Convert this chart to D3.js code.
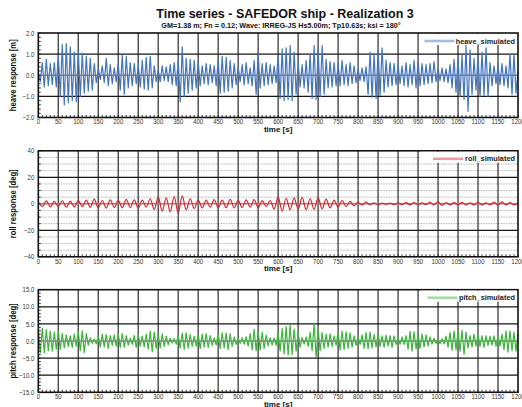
<!DOCTYPE html>
<html><head><meta charset="utf-8">
<script src="https://cdn.jsdelivr.net/npm/d3@7"></script>
<style>
html,body{margin:0;padding:0;background:#fff;}
svg{display:block;font-family:"Liberation Sans",Arial,sans-serif;}
</style></head><body>
<svg id="chart" width="522" height="407"></svg>
<script>
// ---- data -------------------------------------------------------------
const chartTitle = "Time series - SAFEDOR ship - Realization 3";
const chartSubtitle = "GM=1.38 m; Fn = 0.12; Wave: IRREG-JS Hs5.00m; Tp10.63s; ksi = 180°";
const timeTicks = d3.range(0, 1201, 50);

// successive extrema of each response, one every `step` seconds
const heaveStep = 5;
const heaveResponse = [
  0.15,-0.3,0.6,-0.55,0.75,-0.5,0.55,-0.45,0.6,-0.55,
  0.95,-1.0,1.45,-1.4,1.5,-1.3,1.35,-1.2,1.1,-1.25,
  1.15,-1.0,1.05,-0.85,0.9,-0.75,0.8,-0.7,0.55,-0.35,
  0.3,-0.2,0.45,-0.35,0.8,-0.5,0.5,-0.4,0.35,-0.3,
  0.55,-0.7,0.95,-0.9,0.9,-0.6,0.6,-0.5,0.55,-0.4,
  0.5,-0.55,0.7,-0.65,0.85,-0.7,0.9,-0.6,0.45,-0.3,
  0.25,-0.3,0.45,-0.25,0.4,-0.3,0.5,-0.45,0.6,-0.5,
  0.7,-1.25,1.35,-1.0,0.8,-0.85,0.75,-0.7,0.7,-0.6,
  0.65,-0.5,0.45,-0.4,0.55,-0.45,0.5,-0.35,0.45,-0.5,
  0.75,-0.85,0.9,-0.8,0.85,-0.75,0.7,-0.6,0.55,-0.45,
  0.4,-0.3,0.5,-0.45,0.6,-0.4,0.35,-0.5,0.7,-0.9,
  1.05,-0.6,0.55,-0.5,0.6,-0.45,0.5,-0.4,0.45,-0.35,
  0.9,-1.1,1.25,-1.2,1.3,-1.15,1.4,-1.2,1.1,-0.9,
  0.6,-0.55,0.5,-0.6,0.7,-0.8,1.0,-1.1,1.4,-1.15,
  1.2,-1.0,1.4,-0.9,0.75,-0.6,0.65,-0.55,0.6,-0.5,
  0.55,-0.5,0.7,-0.45,0.5,-0.5,0.6,-0.4,0.45,-0.35,
  0.3,-0.25,0.35,-0.3,0.4,-0.9,1.1,-1.05,1.0,-1.1,
  1.2,-0.95,1.3,-0.8,0.7,-0.55,0.6,-0.5,0.55,-0.45,
  0.5,-0.4,0.45,-0.5,0.6,-0.55,0.5,-0.45,0.7,-0.6,
  0.65,-0.5,0.55,-0.45,0.5,-0.4,0.55,-0.35,0.65,-0.3,
  0.3,-0.25,0.35,-0.3,0.3,-0.35,0.5,-0.6,0.75,-0.8,
  0.85,-1.0,0.95,-1.15,1.4,-1.7,1.2,-0.9,0.8,-0.7,
  0.9,-1.0,1.1,-0.95,1.3,-1.0,0.6,-0.5,0.45,-0.4,
  0.5,-0.45,0.55,-0.5,0.45,-0.6,1.0,-0.9,1.0,-0.85,
  0.2
];

const rollStep = 10;
const rollResponse = [
  1.5,-2.0,2.2,-2.3,1.8,-2.0,2.3,-2.5,2.0,-2.4,
  2.5,-2.2,2.8,-2.6,3.5,-3.0,2.5,-3.2,3.0,-2.8,
  2.6,-3.0,3.4,-2.8,3.0,-3.3,2.8,-2.5,3.8,-4.5,
  5.0,-5.5,4.5,-6.0,5.5,-7.0,6.0,-4.5,3.8,-3.5,
  3.0,-3.2,2.8,-2.5,3.2,-3.0,2.7,-2.9,3.3,-3.1,
  2.6,-2.8,3.0,-2.5,3.2,-3.0,2.4,-2.0,2.5,-4.0,
  5.0,-5.5,4.2,-4.5,4.5,-4.0,4.8,-4.5,3.8,-4.2,
  4.5,-3.8,3.5,-3.0,2.8,-2.5,2.5,-2.0,1.8,-1.5,
  1.2,-1.0,1.4,-0.8,0.7,-0.8,0.6,-0.5,0.5,-0.6,
  0.7,-0.6,0.9,-0.8,1.0,-0.7,0.8,-0.6,1.2,-0.9,
  1.5,-1.2,1.0,-0.8,0.9,-0.7,1.1,-0.9,0.8,-1.0,
  1.2,-0.9,0.7,-0.8,1.3,-1.1,1.5,-0.9,1.0,-0.8,
  0.5
];

const pitchStep = 5;
const pitchResponse = [
  3.2,-3.5,3.8,-3.4,3.3,-2.8,2.9,-3.0,2.6,-2.4,
  2.8,-2.5,2.2,-2.0,1.8,-1.6,1.5,-1.9,2.0,-1.5,
  2.6,-2.8,3.0,-3.4,2.2,-1.2,0.9,-0.7,0.6,-0.8,
  1.5,-1.8,2.0,-1.7,1.9,-2.2,1.6,-1.3,1.8,-1.5,
  2.1,-1.9,2.2,-1.8,1.6,-1.2,0.8,-1.0,1.6,-1.8,
  1.9,-1.5,1.4,-1.7,2.0,-2.4,2.9,-3.1,2.6,-2.2,
  1.8,-2.0,2.1,-1.6,1.4,-1.1,0.8,-0.6,0.7,-0.9,
  1.6,-2.0,2.3,-2.5,2.4,-2.1,1.9,-1.6,1.4,-1.5,
  1.8,-2.2,2.0,-1.8,2.2,-1.9,1.6,-1.3,0.9,-1.2,
  2.0,-2.2,2.4,-2.0,2.3,-2.5,2.1,-1.6,1.2,-1.0,
  0.8,-0.7,1.0,-0.9,1.2,-1.5,2.2,-2.6,3.4,-2.8,
  3.0,-2.6,2.5,-2.2,1.8,-1.4,1.0,-1.2,0.9,-1.3,
  2.5,-2.9,3.6,-3.8,4.2,-4.1,4.7,-3.9,3.5,-3.0,
  2.4,-1.8,1.0,-0.9,1.2,-1.6,2.5,-2.8,5.0,-4.8,
  3.4,-2.8,2.5,-2.2,2.0,-1.8,2.1,-1.6,1.4,-1.2,
  2.4,-2.6,2.9,-2.5,2.7,-2.2,2.4,-1.8,1.5,-1.3,
  1.2,-1.0,1.8,-2.2,2.5,-2.3,2.6,-2.0,1.9,-1.7,
  2.0,-1.6,1.5,-1.8,1.7,-1.4,1.6,-1.9,1.5,-1.0,
  0.8,-0.9,1.2,-1.0,1.6,-2.4,2.8,-3.0,2.7,-2.3,
  2.0,-2.2,2.1,-1.7,1.8,-1.5,1.2,-0.9,0.8,-0.7,
  0.6,-0.8,0.7,-0.9,1.4,-1.8,2.5,-2.7,2.9,-2.6,
  2.8,-3.0,3.1,-3.9,2.6,-2.0,1.6,-1.8,2.0,-1.5,
  1.8,-1.6,1.5,-1.9,1.6,-1.3,1.4,-1.2,1.5,-1.6,
  1.4,-1.5,2.0,-2.5,2.9,-3.2,3.0,-2.8,2.6,-3.0,
  2.0
];

const heaveTicks = [-2, -1, 0, 1, 2];
const rollTicks = [-40, -20, 0, 20, 40];
const pitchTicks = [-15, -10, -5, 0, 5, 10, 15];

// ---- layout -----------------------------------------------------------
const svg = d3.select("#chart");
const left = 38.3, right = 518;
const x = d3.scaleLinear().domain([0, 1200]).range([left, right]);

const panels = [
  { key: "heave", top: 33, bottom: 117.5, ticks: heaveTicks, minor: 0.2, fmt: d3.format(".1f"),
    label: "heave response [m]", legend: "heave_simulated", color: "#4274c0", legendColor: "#a2bde3",
    step: heaveStep, values: heaveResponse, curve: d3.curveLinear, dotted: false },
  { key: "roll", top: 150.8, bottom: 256.8, ticks: rollTicks, minor: 5, fmt: d3.format("d"),
    label: "roll response [deg]", legend: "roll_simulated", color: "#e0222b", legendColor: "#ec9aa0",
    step: rollStep, values: rollResponse, curve: d3.curveMonotoneX, dotted: true },
  { key: "pitch", top: 289.7, bottom: 392.3, ticks: pitchTicks, minor: 1, fmt: d3.format(".1f"),
    label: "pitch response [deg]", legend: "pitch_simulated", color: "#3cb53c", legendColor: "#a6dca6",
    step: pitchStep, values: pitchResponse, curve: d3.curveLinear, dotted: false }
];

// squeeze text horizontally (the tick font is a narrow face)
function squeeze(sel, k) {
  sel.each(function () {
    const len = this.getComputedTextLength();
    this.setAttribute("textLength", (len * k).toFixed(2));
    this.setAttribute("lengthAdjust", "spacingAndGlyphs");
  });
}

// ---- titles -----------------------------------------------------------
svg.append("text").attr("x", 285).attr("y", 18).attr("text-anchor", "middle")
  .attr("font-size", 12.5).attr("font-weight", "bold").attr("fill", "#111").text(chartTitle);
svg.append("text").attr("x", 281).attr("y", 27.5).attr("text-anchor", "middle")
  .attr("font-size", 8).attr("font-weight", "bold").attr("fill", "#111").text(chartSubtitle)
  .call(squeeze, 0.9);

// ---- panels -----------------------------------------------------------
panels.forEach(p => {
  const [lo, hi] = d3.extent(p.ticks);
  const y = d3.scaleLinear().domain([lo, hi]).range([p.bottom, p.top]);
  const g = svg.append("g").attr("class", p.key);

  // minor dotted grid
  if (p.dotted) {
    g.selectAll(".minorgrid").data(d3.range(lo, hi + 1e-9, p.minor).filter(v => !p.ticks.includes(v)))
      .join("line").attr("x1", left).attr("x2", right)
      .attr("y1", d => y(d)).attr("y2", d => y(d))
      .attr("stroke", "#b5b5b5").attr("stroke-width", 1).attr("stroke-dasharray", "1.5,1");
  }

  // vertical grid every 50 s
  g.selectAll(".vgrid").data(timeTicks.slice(1, -1)).join("line")
    .attr("x1", d => x(d)).attr("x2", d => x(d)).attr("y1", p.top).attr("y2", p.bottom)
    .attr("stroke", "#4a4a4a").attr("stroke-width", 1.4);

  // major horizontal grid
  g.selectAll(".hgrid").data(p.ticks.filter(v => v !== lo && v !== hi && v !== 0)).join("line")
    .attr("x1", left).attr("x2", right).attr("y1", d => y(d)).attr("y2", d => y(d))
    .attr("stroke", "#151515").attr("stroke-width", 1.3);

  // zero line
  g.append("line").attr("x1", left).attr("x2", right).attr("y1", y(0)).attr("y2", y(0))
    .attr("stroke", "#8a8a8a").attr("stroke-width", 1.5);

  // response trace
  const line = d3.line().x((d, i) => x(i * p.step)).y(d => y(d)).curve(p.curve);
  g.append("path").datum(p.values).attr("d", line)
    .attr("fill", "none").attr("stroke", p.color).attr("stroke-width", 1.2)
    .attr("stroke-linejoin", "round");

  // minor inward ticks, left and bottom
  g.selectAll(".ytick").data(d3.range(lo, hi + 1e-9, p.minor)).join("line")
    .attr("x1", left).attr("x2", left + 2.5).attr("y1", d => y(d)).attr("y2", d => y(d))
    .attr("stroke", "#222").attr("stroke-width", 0.9);
  g.selectAll(".xtick").data(d3.range(0, 1201, 10)).join("line")
    .attr("x1", d => x(d)).attr("x2", d => x(d)).attr("y1", p.bottom).attr("y2", p.bottom - 2.5)
    .attr("stroke", "#222").attr("stroke-width", 0.9);

  // frame
  g.append("rect").attr("x", left).attr("y", p.top).attr("width", right - left)
    .attr("height", p.bottom - p.top).attr("fill", "none").attr("stroke", "#111").attr("stroke-width", 1.6);

  // legend
  const lg = g.append("g");
  const lbox = lg.append("rect").attr("fill", "#fff");
  const lt = lg.append("text").attr("x", right - 3).attr("y", p.top + 10.5)
    .attr("text-anchor", "end").attr("font-size", 8).attr("font-weight", "bold").attr("fill", "#222")
    .text(p.legend).call(squeeze, 0.92);
  const tStart = right - 3 - lt.node().getComputedTextLength() * 0.92;
  lg.append("line").attr("x1", tStart - 36).attr("x2", tStart - 6)
    .attr("y1", p.top + 8).attr("y2", p.top + 8)
    .attr("stroke", p.legendColor).attr("stroke-width", 2.6);
  lbox.attr("x", 421).attr("y", p.top + 1).attr("width", right - 421 - 1).attr("height", 11);

  // y tick labels
  g.selectAll(".ylab").data(p.ticks).join("text")
    .attr("x", left - 4).attr("y", d => y(d) + 2.6).attr("text-anchor", "end")
    .attr("font-size", 7.5).attr("fill", "#333").text(p.fmt).call(squeeze, 0.8);

  // x tick labels
  g.selectAll(".xlab").data(timeTicks).join("text")
    .attr("x", d => x(d)).attr("y", p.bottom + 6.8).attr("text-anchor", "middle")
    .attr("font-size", 7.5).attr("fill", "#333").text(d => d).call(squeeze, 0.8);

  // axis titles
  g.append("text").attr("x", (left + right) / 2).attr("y", p.bottom + 14.3).attr("text-anchor", "middle")
    .attr("font-size", 8).attr("font-weight", "bold").attr("fill", "#111").text("time [s]");
  g.append("text").attr("transform", `translate(16,${(p.top + p.bottom) / 2}) rotate(-90)`)
    .attr("text-anchor", "middle").attr("font-size", 8.5).attr("font-weight", "bold").attr("fill", "#111")
    .text(p.label).call(squeeze, 0.9);
});
</script>
</body></html>
